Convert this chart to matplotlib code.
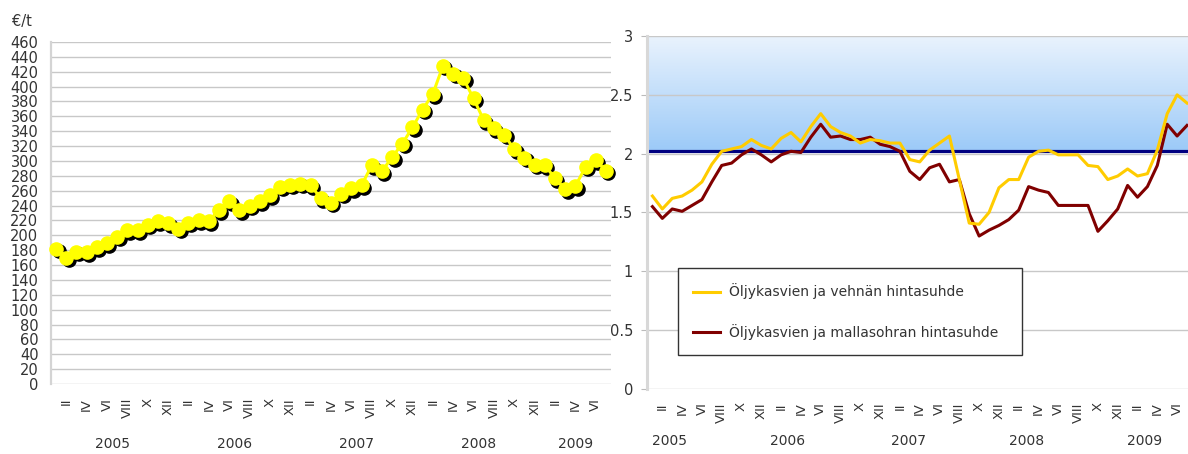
import numpy as np
import matplotlib
matplotlib.use("Agg")
import matplotlib.pyplot as plt
from matplotlib.colors import LinearSegmentedColormap
from matplotlib.transforms import offset_copy, blended_transform_factory

# monthly values, January 2005 - July 2009
price = [182, 170, 178, 177, 184, 189, 198, 207, 207, 214,
         219, 216, 209, 217, 220, 219, 234, 246, 234, 240,
         246, 254, 265, 268, 269, 267, 250, 244, 256, 263,
         267, 294, 286, 305, 323, 345, 369, 390, 428, 417,
         411, 384, 355, 344, 335, 316, 304, 295, 294, 277,
         262, 266, 292, 301, 287]

wheat_ratio = [1.64, 1.53, 1.62, 1.64, 1.69, 1.76, 1.91, 2.02, 2.04, 2.06,
               2.12, 2.07, 2.04, 2.13, 2.18, 2.10, 2.23, 2.34, 2.23, 2.18,
               2.15, 2.09, 2.12, 2.11, 2.09, 2.09, 1.95, 1.93, 2.03, 2.09,
               2.15, 1.78, 1.41, 1.40, 1.50, 1.71, 1.78, 1.78, 1.97, 2.02,
               2.03, 1.99, 1.99, 1.99, 1.90, 1.89, 1.78, 1.81, 1.87, 1.81,
               1.83, 2.03, 2.34, 2.50, 2.43]

barley_ratio = [1.55, 1.45, 1.53, 1.51, 1.56, 1.61, 1.76, 1.90, 1.92, 1.99,
                2.04, 1.99, 1.93, 1.99, 2.02, 2.01, 2.14, 2.25, 2.14, 2.15,
                2.12, 2.12, 2.14, 2.08, 2.06, 2.02, 1.85, 1.78, 1.88, 1.91,
                1.76, 1.78, 1.49, 1.30, 1.35, 1.39, 1.44, 1.52, 1.72, 1.69,
                1.67, 1.56, 1.56, 1.56, 1.56, 1.34, 1.43, 1.53, 1.73, 1.63,
                1.72, 1.90, 2.25, 2.15, 2.24]

years = ["2005", "2006", "2007", "2008", "2009"]
roman = ["I", "II", "III", "IV", "V", "VI", "VII", "VIII", "IX", "X", "XI", "XII"]
band_low, band_high = 2.02, 3.0

legend_labels = ["Öljykasvien ja vehnän hintasuhde",
                 "Öljykasvien ja mallasohran hintasuhde"]

months = np.arange(len(price))
tick_idx = months[1::2]
tick_labels = [roman[i % 12] for i in tick_idx]

txt = "#333333"
grid_c = "#c8c8c8"

fig = plt.figure(figsize=(11.88, 4.54), dpi=100)

# ---------------- left: price chart ----------------
ax1 = fig.add_axes([0.0429, 0.1542, 0.4714, 0.7533])
ax1.set_xlim(-0.5, 54.5)
ax1.set_ylim(0, 460)
ax1.set_yticks(np.arange(0, 461, 20))
ax1.grid(axis="y", color=grid_c, lw=1)
ax1.set_axisbelow(True)
for s in ["top", "right", "bottom"]:
    ax1.spines[s].set_visible(False)
ax1.spines["left"].set_color("#d4d4d4")
ax1.spines["left"].set_linewidth(1.6)
ax1.tick_params(axis="y", length=0, pad=9, labelsize=10.5, labelcolor=txt)
ax1.set_xticks(tick_idx)
ax1.set_xticklabels(tick_labels, rotation=90)
ax1.tick_params(axis="x", length=0, pad=10, labelsize=9.5, labelcolor=txt)

# marker shadow
shadow = offset_copy(ax1.transData, fig=fig, x=1.8, y=-1.8, units="points")
ax1.plot(months, price, "o", ms=9.5, color="black", mec="black", transform=shadow,
         zorder=2, clip_on=False)
ax1.plot(months, price, "-", color="#ffff00", lw=2.2, zorder=3, clip_on=False)
ax1.plot(months, price, "o", ms=9.5, color="#ffff00", mec="#ffff00", zorder=4,
         clip_on=False)

tr1 = blended_transform_factory(ax1.transData, ax1.transAxes)
for x, y in zip([5.5, 17.5, 29.5, 41.5, 51], years):
    ax1.text(x, -0.175, y, transform=tr1, ha="center", va="center",
             fontsize=10, color=txt)
fig.text(0.010, 0.952, "€/t", fontsize=10.5, color=txt, va="center")

# ---------------- right: price ratio chart ----------------
ax2 = fig.add_axes([0.5446, 0.1432, 0.4554, 0.7775])
xmin, xmax = -0.55, 54.1
ax2.set_xlim(xmin, xmax)
ax2.set_ylim(0, 3)
ax2.set_yticks(np.arange(0, 3.01, 0.5))
ax2.set_yticklabels(["0", "0.5", "1", "1.5", "2", "2.5", "3"])

cmap = LinearSegmentedColormap.from_list("band", ["#9ccaf8", "#eaf3fd"])
ax2.imshow(np.linspace(0, 1, 256).reshape(-1, 1), extent=[xmin, xmax, band_low, band_high],
           origin="lower", cmap=cmap, aspect="auto", zorder=0)
ax2.set_xlim(xmin, xmax)
ax2.set_ylim(0, 3)
for yv in np.arange(0, 3.01, 0.5):
    ax2.axhline(yv, color=grid_c, lw=1, zorder=1)
ax2.axhline(band_low, color="#000080", lw=2.3, zorder=2)

for s in ["top", "right", "bottom"]:
    ax2.spines[s].set_visible(False)
ax2.spines["left"].set_color("#d8d8d8")
ax2.spines["left"].set_linewidth(2.2)
ax2.tick_params(axis="y", length=4, color="#bbbbbb", pad=6, labelsize=10.5,
                labelcolor=txt)
ax2.set_xticks(tick_idx)
ax2.set_xticklabels(tick_labels, rotation=90)
ax2.tick_params(axis="x", length=0, pad=9.5, labelsize=9.5, labelcolor=txt)

l1, = ax2.plot(months, wheat_ratio, color="#ffcc00", lw=2.2, zorder=4, clip_on=False)
l2, = ax2.plot(months, barley_ratio, color="#800000", lw=2.2, zorder=3, clip_on=False)

tr2 = blended_transform_factory(ax2.transData, ax2.transAxes)
for x, y in zip([1.7, 13.7, 25.9, 37.8, 49.7], years):
    ax2.text(x, -0.147, y, transform=tr2, ha="center", va="center",
             fontsize=10, color=txt)

leg = ax2.legend([l1, l2], legend_labels, loc="lower left",
                 bbox_to_anchor=(0.0573, 0.0963, 0.636, 0.252), mode="expand",
                 fontsize=10, frameon=True, fancybox=False, framealpha=1,
                 edgecolor="#333333", borderpad=1.1, labelspacing=1.75,
                 handlelength=1.95, handletextpad=0.6, borderaxespad=0)
leg.get_frame().set_linewidth(1.0)
for t in leg.get_texts():
    t.set_color(txt)

fig.savefig("out.png", dpi=100)
